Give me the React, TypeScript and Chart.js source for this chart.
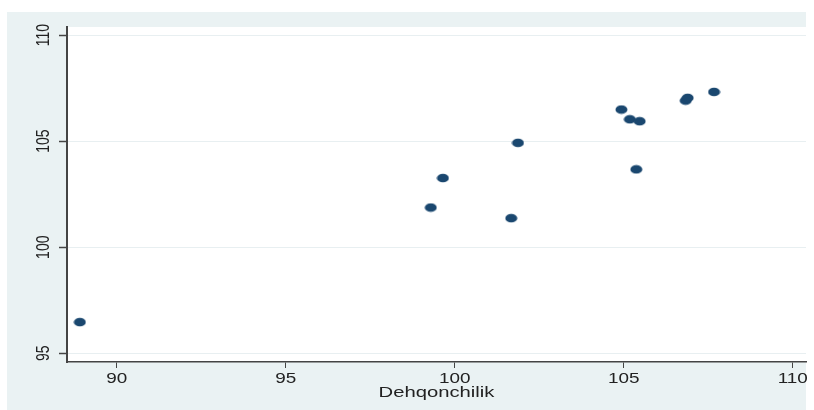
import React, { useEffect, useRef } from "react";
import { Chart, registerables } from "chart.js";

Chart.register(...registerables);

const xValues = [88.91, 99.29, 99.65, 101.87, 101.67, 104.93, 105.18, 105.47, 105.37, 106.83, 106.89, 107.67];
const yValues = [96.47, 101.87, 103.26, 104.92, 101.37, 106.49, 106.03, 105.94, 103.67, 106.91, 107.04, 107.32];
const xTicks = [90, 95, 100, 105, 110];
const yTicks = [95, 100, 105, 110];
const xTitle = "Dehqonchilik";

const STRETCH = 1.35;
const FONT = "Arial, 'Liberation Sans', Helvetica, sans-serif";

export default function App() {
  const ref = useRef<HTMLCanvasElement | null>(null);

  useEffect(() => {
    const canvas = ref.current;
    if (!canvas) return;

    const marker = document.createElement("canvas");
    marker.width = 13;
    marker.height = 10;
    const mctx = marker.getContext("2d")!;
    mctx.fillStyle = "#1a476f";
    mctx.beginPath();
    mctx.ellipse(6.5, 5, 6, 4.3, 0, 0, Math.PI * 2);
    mctx.fill();

    const bgPlugin = {
      id: "bg",
      beforeDraw(chart: any) {
        const ctx = chart.ctx;
        const a = chart.chartArea;
        ctx.save();
        ctx.fillStyle = "#eaf2f3";
        ctx.fillRect(7, 12, 799, 398);
        ctx.fillStyle = "#ffffff";
        ctx.fillRect(a.left, a.top, a.right - a.left, a.bottom - a.top);
        ctx.restore();
      },
      afterDraw(chart: any) {
        const ctx = chart.ctx;
        const xs = chart.scales.x;
        const ys = chart.scales.y;
        ctx.save();
        ctx.fillStyle = "#222";
        ctx.textAlign = "center";
        ctx.textBaseline = "middle";
        ctx.font = `14px ${FONT}`;
        xTicks.forEach((v) => {
          const px = xs.getPixelForValue(v);
          ctx.save();
          ctx.translate(px, 379);
          ctx.scale(STRETCH, 1);
          ctx.fillText(String(v), 0, 0);
          ctx.restore();
        });
        yTicks.forEach((v) => {
          const py = ys.getPixelForValue(v);
          ctx.save();
          ctx.translate(43.5, py);
          ctx.scale(STRETCH, 1);
          ctx.rotate(-Math.PI / 2);
          ctx.fillText(String(v), 0, 0);
          ctx.restore();
        });
        ctx.font = `15px ${FONT}`;
        ctx.save();
        ctx.translate((chart.chartArea.left + chart.chartArea.right) / 2, 393);
        ctx.scale(STRETCH, 1);
        ctx.fillText(xTitle, 0, 0);
        ctx.restore();
        ctx.restore();
      },
    };

    const chart = new Chart(canvas, {
      type: "scatter",
      data: {
        datasets: [
          {
            data: xValues.map((x, i) => ({ x, y: yValues[i] })),
            pointStyle: marker as any,
            pointRadius: 6,
            backgroundColor: "#1a476f",
            borderColor: "#1a476f",
          },
        ],
      },
      options: {
        animation: false,
        responsive: false,
        maintainAspectRatio: false,
        devicePixelRatio: 1,
        layout: { padding: { left: 57, top: 27, right: 8, bottom: 38 } },
        plugins: { legend: { display: false }, tooltip: { enabled: false } },
        scales: {
          x: {
            type: "linear",
            min: 88.53,
            max: 110.39,
            afterBuildTicks: (s: any) => {
              s.ticks = xTicks.map((v) => ({ value: v }));
            },
            afterFit: (s: any) => {
              s.height = 10;
            },
            ticks: { display: false },
            grid: {
              drawOnChartArea: false,
              drawTicks: true,
              tickLength: 6,
              tickColor: "#444",
              tickWidth: 1,
            },
            border: { display: true, color: "#444", width: 1.5 },
          },
          y: {
            type: "linear",
            min: 94.59,
            max: 110.38,
            afterBuildTicks: (s: any) => {
              s.ticks = yTicks.map((v) => ({ value: v }));
            },
            afterFit: (s: any) => {
              s.width = 10;
            },
            ticks: { display: false },
            grid: {
              drawOnChartArea: true,
              color: "#e8eff1",
              lineWidth: 1,
              drawTicks: true,
              tickLength: 8,
              tickColor: "#444",
              tickWidth: 1.5,
            },
            border: { display: true, color: "#444", width: 2 },
          },
        },
      },
      plugins: [bgPlugin],
    });

    return () => chart.destroy();
  }, []);

  return (
    <div style={{ position: "fixed", left: 0, top: 0, width: 814, height: 410, background: "#fff" }}>
      <canvas ref={ref} width={814} height={410} style={{ width: 814, height: 410, display: "block" }} />
    </div>
  );
}
